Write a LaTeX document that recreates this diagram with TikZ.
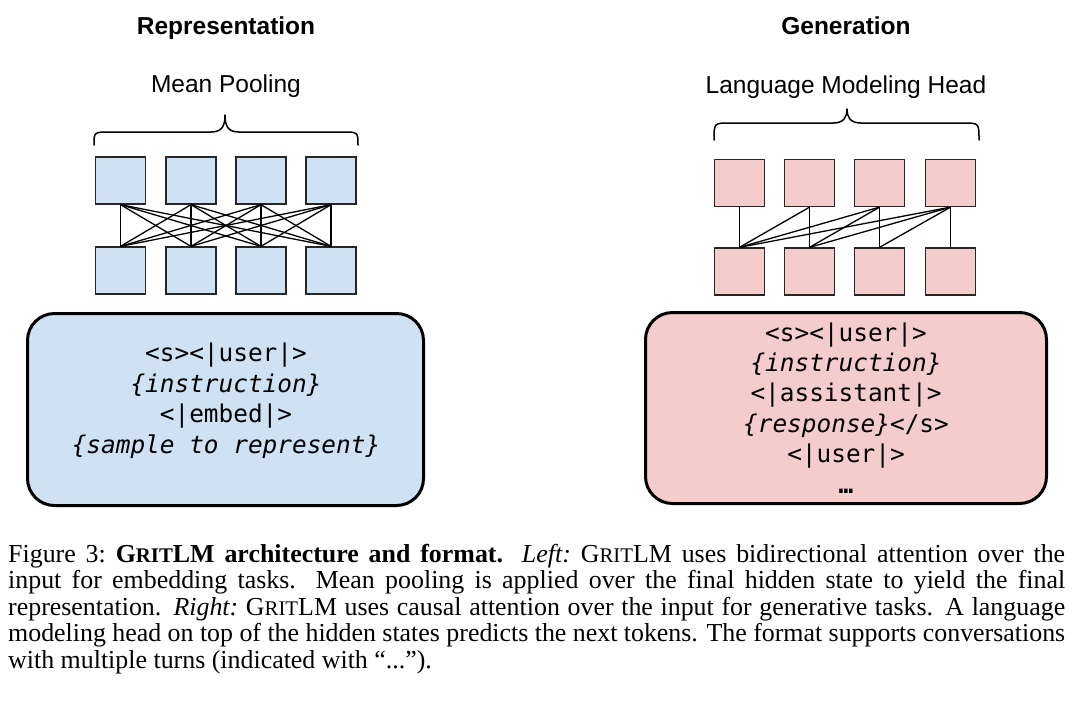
\documentclass[tikz,border=0pt]{standalone}
\usepackage{fontspec}
\setmainfont{Liberation Serif}
\setsansfont{Liberation Sans}
\setmonofont{DejaVu Sans Mono}
\definecolor{repblue}{HTML}{CFE2F3}
\definecolor{genpink}{HTML}{F4CCCC}
\newcommand\gritlmname{G{\fontsize{20.8}{20}\selectfont RIT}LM}
\begin{document}
\begin{tikzpicture}[x=1pt,y=-1pt]
\tikzset{
 tok/.style={draw=black!85, line width=1.3pt, minimum width=50pt, minimum height=47pt, inner sep=0pt},
 repTok/.style={tok, fill=repblue},
 genTok/.style={tok, fill=genpink},
 attn/.style={line width=1.3pt, black},
 promptbox/.style={draw=black, line width=3pt, rounded corners=27pt, inner sep=0pt},
 heading/.style={font=\fontsize{24.5}{29}\selectfont\sffamily\bfseries, anchor=base, inner sep=0pt},
 sublabel/.style={font=\fontsize{24.5}{29}\selectfont\sffamily, anchor=base, inner sep=0pt},
 prompt/.style={font=\fontsize{24.4}{30.4}\selectfont\ttfamily, align=center, anchor=base, inner sep=0pt},
 bracepath/.style={line width=1.5pt, line cap=round, line join=round}
}
\useasboundingbox (0,0) rectangle (1078,702);
\fill[white] (0,0) rectangle (1078,702);

% headings
\node[heading] (repT) at (226,34) {Representation};
\node[heading] (genT) at (846,34) {Generation};
\node[sublabel] (pool) at (226,92) {Mean Pooling};
\node[sublabel] (lmhead) at (846,93) {Language Modeling Head};

% braces
\draw[bracepath] (94,145) .. controls (94,132) and (94,132) .. (110,132) -- (211,132)
  .. controls (222,132) and (225,126) .. (225,115)
  .. controls (225,126) and (228,132) .. (239,132) -- (342,132)
  .. controls (358,132) and (358,132) .. (358,145);
\draw[bracepath] (714,140) .. controls (714,123) and (714,123) .. (730,123) -- (833,123)
  .. controls (844,123) and (847,117) .. (847,109)
  .. controls (847,117) and (850,123) .. (861,123) -- (963,123)
  .. controls (979,123) and (979,123) .. (979,140);

% token squares
\foreach \i/\x in {1/120.5,2/191,3/261,4/331} {
  \node[repTok] (lt\i) at (\x,180.5) {};
  \node[repTok] (lb\i) at (\x,270.5) {};
}
\foreach \i/\x in {1/739.5,2/809.5,3/879.5,4/950.5} {
  \node[genTok] (rt\i) at (\x,183) {};
  \node[genTok] (rb\i) at (\x,271.5) {};
}
% bidirectional attention
\foreach \i in {1,...,4} \foreach \j in {1,...,4} \draw[attn] (lt\i.south) -- (lb\j.north);
% causal attention
\foreach \i in {1,...,4} \foreach \j in {1,...,\i} \draw[attn] (rt\i.south) -- (rb\j.north);

% prompt boxes
\node[promptbox, fill=repblue, minimum width=396pt, minimum height=192pt] (lbox) at (225.5,409.5) {};
\node[promptbox, fill=genpink, minimum width=401pt, minimum height=191pt] (rbox) at (846,408) {};
\node[prompt] (ltext) at (226,453) {<s><|user|>\\\textit{\{instruction\}}\\<|embed|>\\\textit{\{sample to represent\}}};
\node[prompt] (rtext) at (846,493) {<s><|user|>\\\textit{\{instruction\}}\\<|assistant|>\\\textit{\{response\}}</s>\\<|user|>\\\textbf{…}};

% caption
\node[anchor=base west, inner sep=0pt, text width=1057pt, align=justify, font=\fontsize{25.9}{26.5}\selectfont] (caption) at (8,562) {Figure 3:\ \textbf{\gritlmname{} architecture and format.} \textit{Left:}\ \gritlmname{} uses bidirectional attention over the\linebreak input for embedding tasks. Mean pooling is applied over the final hidden state to yield the final\linebreak representation. \textit{Right:}\ \gritlmname{} uses causal attention over the input for generative tasks. A language\linebreak modeling head on top of the hidden states predicts the next tokens. The format supports conversations\linebreak with multiple turns (indicated with “...”).};
\end{tikzpicture}
\end{document}
